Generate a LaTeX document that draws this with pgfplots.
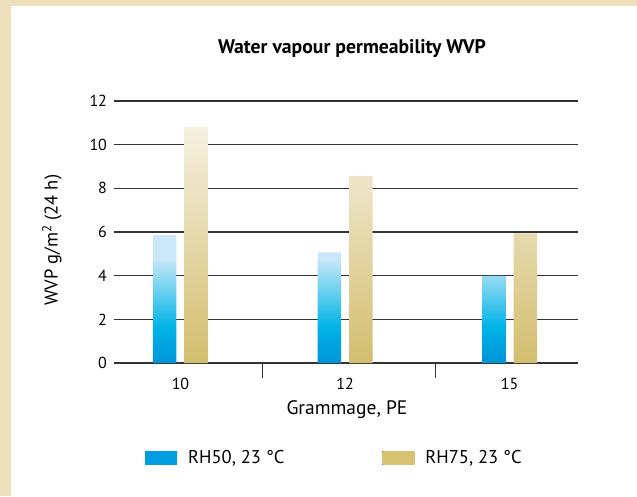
\documentclass[border=0pt]{standalone}
\usepackage{fontspec}
\setmainfont{PT Sans}
\usepackage{pgfplots}
\usepackage{pgfplotstable}
\pgfplotsset{compat=1.18}
\definecolor{cream}{HTML}{ECDFBA}
\definecolor{bluedark}{HTML}{0094D8}
\definecolor{bluemid}{HTML}{00B3E7}
\definecolor{bluelight}{HTML}{CBE8F8}
\definecolor{blueleg}{HTML}{009EE0}
\definecolor{tandark}{HTML}{D3BE6E}
\definecolor{tanlight}{HTML}{F6F0E1}
\definecolor{tanleg}{HTML}{D6C271}
\definecolor{gridc}{HTML}{333333}
\pgfdeclareverticalshading{blueshade}{100bp}{color(0bp)=(bluedark); color(25bp)=(bluedark); color(39bp)=(bluemid); color(66bp)=(bluelight); color(100bp)=(bluelight)}
\pgfdeclareverticalshading{tanshade}{100bp}{color(0bp)=(tandark); color(25bp)=(tandark); color(75bp)=(tanlight); color(100bp)=(tanlight)}
\pgfplotstableread{
x y
0 5.86
1 5.07
2 3.99
}\rhfifty
\pgfplotstableread{
x y
0 10.81
1 8.57
2 5.94
}\rhseventyfive
\begin{document}
\begin{tikzpicture}[x=1pt,y=1pt]
\fill[cream] (0,0) rectangle (637,496);
\fill[white] (11,0) rectangle (637,490);
\path[use as bounding box] (0,0) rectangle (637,496);
\begin{axis}[
  at={(113.5pt,133pt)}, anchor=south west,
  scale only axis, width=464.5pt, height=262pt,
  xmin=-0.407, xmax=2.416, ymin=0, ymax=12,
  axis lines*=left, axis line style={draw=none},
  ymajorgrids, grid style={gridc, line width=1.3pt},
  ytick={0,2,...,12}, ytick style={draw=none},
  xtick={0,1,2}, xticklabels={10,12,15}, xtick style={draw=none},
  extra x ticks={0.5,1.55}, extra x tick labels={},
  extra x tick style={xtick style={draw=gridc,line width=1.3pt}, major tick length=15pt, tick align=outside, grid=none},
  /pgf/number format/assume math mode=true,
  ticklabel style={font=\fontsize{16}{18}\selectfont},
  yticklabel style={xshift=-3pt},
  xticklabel style={yshift=-7pt},
  ybar=8pt, bar width=23.5pt,
  title={Water vapour permeability WVP},
  title style={at={(axis description cs:0.5135,1.179)}, anchor=center, font=\fontsize{19.7}{22}\selectfont\bfseries},
  ylabel={WVP g/m\textsuperscript{2} (24 h)},
  every axis y label/.style={at={(axis description cs:-0.1324,0.469)}, anchor=center, rotate=90, font=\fontsize{18.5}{20}\selectfont},
  xlabel={Grammage, PE},
  every axis x label/.style={at={(axis description cs:0.5027,-0.179)}, anchor=center, font=\fontsize{19.5}{21}\selectfont},
  legend columns=2,
  legend style={at={(axis description cs:0.0678,-0.3626)}, anchor=west, draw=none, fill=none, inner sep=0pt,
    font=\fontsize{18.5}{20}\selectfont, /tikz/every even column/.append style={column sep=96pt}},
]
\addplot[draw=none, shade, shading=blueshade,
  legend image code/.code={\fill[top color=blueleg, bottom color=blueleg, draw=none] (0pt,-6.75pt) rectangle (32pt,6.75pt); \path (0pt,0pt) -- (41pt,0pt);}]
  table[x=x,y=y]{\rhfifty};
\addlegendentry{RH50, 23 °C}
\addplot[draw=none, shade, shading=tanshade,
  legend image code/.code={\fill[top color=tanleg, bottom color=tanleg, draw=none] (0pt,-6.75pt) rectangle (32pt,6.75pt); \path (0pt,0pt) -- (41pt,0pt);}]
  table[x=x,y=y]{\rhseventyfive};
\addlegendentry{RH75, 23 °C}
\end{axis}
\end{tikzpicture}
\end{document}
